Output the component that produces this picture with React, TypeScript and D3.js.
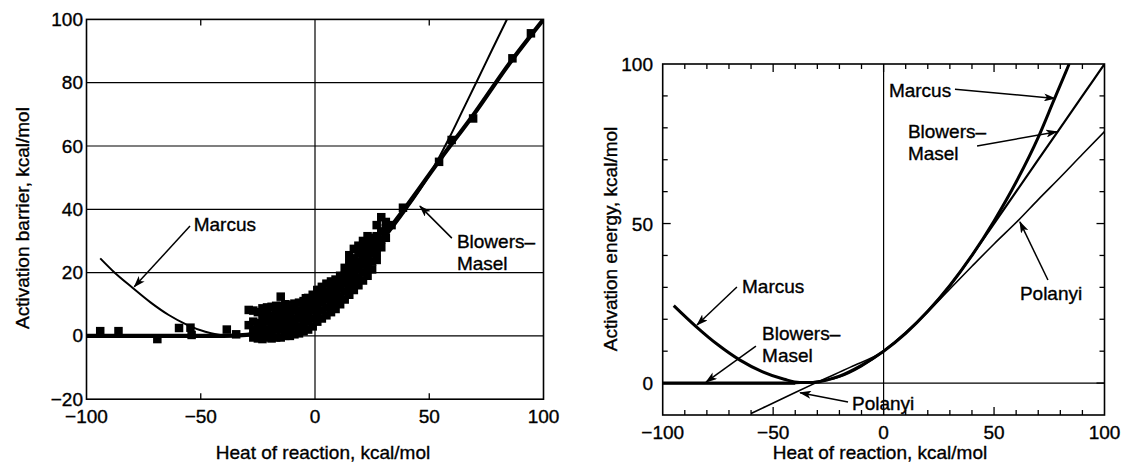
import React, { useEffect, useRef } from 'react';
import * as d3 from 'd3';

// ---- left panel: measured barriers and the two fits ----
// scattered points outside the dense band
const leftOutliers: [number, number][] = [
  [-94, 1.5], [-86, 1.5], [-69, -1], [-59.5, 2.5], [-54.5, 2.6], [-54, 0.3], [-38.6, 2], [-34.5, 0.5],
  [-29, 8.2], [-29, 3.4], [-15, 12.4], [-4, 11.9], [2, 14.5], [33.5, 35], [38.5, 40.5],
  [54.3, 55], [59.8, 61.9], [69.2, 68.7], [86.4, 87.7], [94.5, 95.6],
];

// dense band between -27 and 31 kcal/mol: [heat of reaction, barriers read at that column]
const leftBand: [number, number[]][] = [
  [-27, [-0.5, 2, 4.5, 8]],
  [-25, [-0.8, 1.5, 4, 7.5]],
  [-23, [-1, 1.5, 4, 6.5, 8.7]],
  [-21, [-0.5, 2, 4.5, 7, 9]],
  [-19, [-0.8, 1.5, 4, 6.5, 9.2]],
  [-17, [-0.5, 2, 4.5, 7, 9.5]],
  [-15, [-0.5, 2, 4.5, 7, 9.5]],
  [-13, [0, 2.5, 5, 7.5, 10]],
  [-11, [0, 2.5, 5, 7.5, 9.8]],
  [-9, [0.5, 3, 5.5, 8, 10.2]],
  [-7, [0.8, 3, 5.5, 8, 10.5]],
  [-5, [1.5, 4, 6.5, 9, 11]],
  [-3, [2, 4.5, 7, 9.5, 12]],
  [-1, [3, 5.5, 8, 10.5, 13]],
  [1, [4.5, 7, 9.5, 12, 14.5]],
  [3, [5.5, 8, 10.5, 13, 15.5]],
  [5, [6.5, 9, 11.5, 14, 16.5]],
  [7, [7.5, 10, 12.5, 15, 17.2]],
  [9, [8.5, 11, 13.5, 16, 17.8]],
  [11, [10, 12.5, 15, 17.5, 19]],
  [13, [11.5, 14, 16.5, 19, 21.5]],
  [15, [13, 15.5, 18, 20.5, 23, 25.5]],
  [17, [14.5, 17, 19.5, 22, 24.5, 27.5]],
  [19, [16, 18.5, 21, 23.5, 26, 28.5]],
  [21, [17.5, 20, 22.5, 25, 27.5, 30]],
  [23, [19, 21.5, 24, 26.5, 29, 31.5]],
  [25, [21, 23.5, 26, 28.5, 31]],
  [27, [24, 26.5, 29, 31.5, 35]],
  [29, [28, 30.5, 33, 37.5]],
  [31, [31, 34, 36]],
];

const leftMarcus: [number, number][] = [
  [-94, 24.5], [-88, 20.2], [-80, 15.3], [-72, 10.6], [-64, 6.6], [-56, 3.5], [-48, 1.3], [-40, 0.2],
  [-34, 0.2], [-28, 0.8], [-20, 2.3], [-10, 5.5], [0, 10], [10, 15.6], [20, 22.5], [30, 30.5],
  [40, 40], [50, 50.8], [59, 62.9], [65, 71.8], [71, 80.7], [77.5, 90.4], [84, 100],
];

const leftBlowersMasel: [number, number][] = [
  [-100, 0], [-40, 0], [-30, 0.3], [-20, 1.5], [-10, 4.5], [0, 9.5], [10, 15.5], [20, 23],
  [30, 31.5], [40, 41], [55, 56], [70, 70.5], [85, 86], [100, 100],
];

const leftXTicks = [-100, -50, 0, 50, 100];
const leftYTicks = [-20, 0, 20, 40, 60, 80, 100];
const leftGridY = [0, 20, 40, 60, 80];

// ---- right panel: model curves only ----
const rightMarcus: [number, number][] = [
  [-95, 24.3], [-85, 17.8], [-75, 12], [-65, 7.2], [-55, 3.6], [-45, 1.2], [-38, 0.2], [-32, 0.2],
  [-25, 1.1], [-20, 2.2], [-10, 5.6], [0, 10], [10, 15.6], [20, 22.5], [30, 30.6], [40, 40],
  [50, 50.8], [60, 63], [70, 77], [77, 88.5], [84, 100],
];

const rightBlowersMasel: [number, number][] = [
  [-100, 0], [-40, 0], [-35, 0.1], [-30, 0.5], [-20, 2], [-10, 5.3], [0, 10], [10, 15.8],
  [20, 22.6], [30, 30.5], [40, 40], [50, 50], [60, 60], [70, 70], [80, 80], [90, 90], [100, 100],
];

const rightPolanyi: [number, number][] = [
  [-60, -9.5], [-45, -4.6], [-30, 0.3], [-15, 5], [0, 10], [10, 15.6], [20, 22.3], [30, 29.5],
  [40, 36.6], [50, 43.6], [61, 51], [70, 57.5], [80, 64.5], [90, 71.7], [100, 78.8],
];

const rightXTicks = [-100, -50, 0, 50, 100];
const rightYTicks = [0, 50, 100];

// labels with arrows, in data units: text anchor, arrow tail, arrow head
const leftNotes = [
  { lines: ['Marcus'], at: [-53.1, 33.1], from: [-54.7, 34.7], to: [-79.1, 15.5] },
  { lines: ['Blowers–', 'Masel'], at: [62.1, 27.8], from: [59.9, 30.9], to: [45.9, 41] },
];
const rightNotes = [
  { lines: ['Marcus'], at: [2.4, 89.7], from: [32.3, 92.1], to: [77.6, 89.2] },
  { lines: ['Blowers–', 'Masel'], at: [11, 76.8], from: [42.3, 74.3], to: [78.5, 78.8] },
  { lines: ['Polanyi'], at: [61.7, 26], from: [74.4, 32.3], to: [61.7, 50.5] },
  { lines: ['Marcus'], at: [-64.1, 28.2], from: [-66.4, 30.1], to: [-84.5, 18.2] },
  { lines: ['Blowers–', 'Masel'], at: [-55, 13.5], from: [-57.8, 11.6], to: [-80.4, 0.3] },
  { lines: ['Polanyi'], at: [-14.3, -8.4], from: [-16.1, -5.9], to: [-37.8, -3] },
];

const FONT = '"Liberation Sans", Arial, Helvetica, sans-serif';

function App() {
  const ref = useRef<HTMLDivElement>(null);

  useEffect(() => {
    const el = ref.current;
    if (!el) return;
    el.innerHTML = '';

    const svg = d3.select(el).append('svg')
      .attr('width', 1125)
      .attr('height', 463)
      .style('position', 'absolute')
      .style('left', 0)
      .style('top', 0)
      .style('background', '#fff')
      .style('font-family', FONT);

    const defs = svg.append('defs');
    defs.append('marker')
      .attr('id', 'head')
      .attr('viewBox', '0 0 12 8')
      .attr('refX', 11)
      .attr('refY', 4)
      .attr('markerWidth', 12)
      .attr('markerHeight', 8)
      .attr('markerUnits', 'userSpaceOnUse')
      .attr('orient', 'auto')
      .append('path')
      .attr('d', 'M0,0 L12,4 L0,8 L3,4 Z')
      .attr('fill', '#000');

    const txt = (g: any, s: string, x: number, y: number, anchor: string) =>
      g.append('text')
        .attr('x', x).attr('y', y)
        .attr('text-anchor', anchor)
        .attr('font-size', 19)
        .attr('fill', '#000')
        .attr('stroke', '#000')
        .attr('stroke-width', 0.35)
        .text(s);

    const notes = (g: any, list: any[], x: any, y: any) => {
      list.forEach(n => {
        g.append('line')
          .attr('x1', x(n.from[0])).attr('y1', y(n.from[1]))
          .attr('x2', x(n.to[0])).attr('y2', y(n.to[1]))
          .attr('stroke', '#000')
          .attr('stroke-width', 1.5)
          .attr('marker-end', 'url(#head)');
        n.lines.forEach((s: string, i: number) => txt(g, s, x(n.at[0]), y(n.at[1]) + i * 22, 'start'));
      });
    };

    const fmt = (t: number) => (t < 0 ? '−' + Math.abs(t) : String(t));

    // ---------- left panel ----------
    {
      const x = d3.scaleLinear().domain([-100, 100]).range([86.5, 543.5]);
      const y = d3.scaleLinear().domain([-20, 100]).range([399.2, 19.4]);
      const g = svg.append('g');

      defs.append('clipPath').attr('id', 'clipL')
        .append('rect').attr('x', x(-100)).attr('y', y(100))
        .attr('width', x(100) - x(-100)).attr('height', y(-20) - y(100));

      g.selectAll('.grid').data(leftGridY).join('line')
        .attr('x1', x(-100)).attr('x2', x(100))
        .attr('y1', d => y(d)).attr('y2', d => y(d))
        .attr('stroke', '#000').attr('stroke-width', 1.2);
      g.append('line')
        .attr('x1', x(0)).attr('x2', x(0)).attr('y1', y(-20)).attr('y2', y(100))
        .attr('stroke', '#000').attr('stroke-width', 1.2);

      [-50, 50].forEach(t => {
        g.append('line').attr('x1', x(t)).attr('x2', x(t)).attr('y1', y(100)).attr('y2', y(100) + 6)
          .attr('stroke', '#000').attr('stroke-width', 1.3);
        g.append('line').attr('x1', x(t)).attr('x2', x(t)).attr('y1', y(-20)).attr('y2', y(-20) - 6)
          .attr('stroke', '#000').attr('stroke-width', 1.3);
      });

      const line = d3.line<[number, number]>()
        .x(d => x(d[0])).y(d => y(d[1]))
        .curve(d3.curveMonotoneX);

      const plot = g.append('g').attr('clip-path', 'url(#clipL)');
      plot.append('path').attr('d', line(leftMarcus))
        .attr('fill', 'none').attr('stroke', '#000').attr('stroke-width', 2);
      plot.append('path').attr('d', line(leftBlowersMasel))
        .attr('fill', 'none').attr('stroke', '#000').attr('stroke-width', 4.2);

      const points: [number, number][] = leftOutliers.concat(
        leftBand.flatMap(([hx, ys]) => ys.map(v => [hx, v] as [number, number])));
      const sq = 8.5;
      plot.selectAll('rect.pt').data(points).join('rect')
        .attr('x', d => x(d[0]) - sq / 2).attr('y', d => y(d[1]) - sq / 2)
        .attr('width', sq).attr('height', sq).attr('fill', '#000');

      g.append('rect')
        .attr('x', x(-100)).attr('y', y(100))
        .attr('width', x(100) - x(-100)).attr('height', y(-20) - y(100))
        .attr('fill', 'none').attr('stroke', '#000').attr('stroke-width', 1.6);

      leftYTicks.forEach(t => txt(g, fmt(t), 83, y(t) + 6.5, 'end'));
      leftXTicks.forEach(t => txt(g, fmt(t), x(t), y(-20) + 24, 'middle'));

      txt(g, 'Heat of reaction, kcal/mol', 323, 459, 'middle');
      g.append('text')
        .attr('transform', 'translate(29,218) rotate(-90)')
        .attr('text-anchor', 'middle')
        .attr('font-size', 19)
        .attr('stroke', '#000').attr('stroke-width', 0.35)
        .text('Activation barrier, kcal/mol');

      notes(g, leftNotes, x, y);
    }

    // ---------- right panel ----------
    {
      const x = d3.scaleLinear().domain([-100, 100]).range([662.7, 1104.5]);
      const y = d3.scaleLinear().domain([-10, 100]).range([415, 64]);
      const g = svg.append('g');

      defs.append('clipPath').attr('id', 'clipR')
        .append('rect').attr('x', x(-100)).attr('y', y(100))
        .attr('width', x(100) - x(-100)).attr('height', y(-10) - y(100));

      g.append('line')
        .attr('x1', x(-100)).attr('x2', x(100)).attr('y1', y(0)).attr('y2', y(0))
        .attr('stroke', '#000').attr('stroke-width', 1.3);
      g.append('line')
        .attr('x1', x(0)).attr('x2', x(0)).attr('y1', y(-10)).attr('y2', y(100))
        .attr('stroke', '#000').attr('stroke-width', 1.2);

      d3.range(-90, 100, 10).forEach(t => {
        const len = t % 50 === 0 ? 8 : 5;
        g.append('line').attr('x1', x(t)).attr('x2', x(t)).attr('y1', y(100)).attr('y2', y(100) + len)
          .attr('stroke', '#000').attr('stroke-width', 1.3);
        g.append('line').attr('x1', x(t)).attr('x2', x(t)).attr('y1', y(-10)).attr('y2', y(-10) - len)
          .attr('stroke', '#000').attr('stroke-width', 1.3);
      });
      d3.range(0, 100, 10).forEach(t => {
        const len = t % 50 === 0 ? 8 : 5;
        g.append('line').attr('x1', x(-100)).attr('x2', x(-100) + len).attr('y1', y(t)).attr('y2', y(t))
          .attr('stroke', '#000').attr('stroke-width', 1.3);
        g.append('line').attr('x1', x(100)).attr('x2', x(100) - len).attr('y1', y(t)).attr('y2', y(t))
          .attr('stroke', '#000').attr('stroke-width', 1.3);
      });

      const line = d3.line<[number, number]>()
        .x(d => x(d[0])).y(d => y(d[1]))
        .curve(d3.curveMonotoneX);

      const plot = g.append('g').attr('clip-path', 'url(#clipR)');
      plot.append('path').attr('d', line(rightPolanyi))
        .attr('fill', 'none').attr('stroke', '#000').attr('stroke-width', 1.6);
      plot.append('path').attr('d', line(rightBlowersMasel))
        .attr('fill', 'none').attr('stroke', '#000').attr('stroke-width', 2.2);
      plot.append('path').attr('d', line(rightBlowersMasel.filter(d => d[1] === 0)))
        .attr('fill', 'none').attr('stroke', '#000').attr('stroke-width', 3.2);
      plot.append('path').attr('d', line(rightMarcus))
        .attr('fill', 'none').attr('stroke', '#000').attr('stroke-width', 3);

      g.append('rect')
        .attr('x', x(-100)).attr('y', y(100))
        .attr('width', x(100) - x(-100)).attr('height', y(-10) - y(100))
        .attr('fill', 'none').attr('stroke', '#000').attr('stroke-width', 1.6);

      rightYTicks.forEach(t => txt(g, String(t), 653, y(t) + 7, 'end'));
      rightXTicks.forEach(t => txt(g, fmt(t), x(t), y(-10) + 24, 'middle'));

      txt(g, 'Heat of reaction, kcal/mol', 880, 459, 'middle');
      g.append('text')
        .attr('transform', 'translate(617,239) rotate(-90)')
        .attr('text-anchor', 'middle')
        .attr('font-size', 19)
        .attr('stroke', '#000').attr('stroke-width', 0.35)
        .text('Activation energy, kcal/mol');

      notes(g, rightNotes, x, y);
    }
  }, []);

  return <div ref={ref}></div>;
}

export default App;
